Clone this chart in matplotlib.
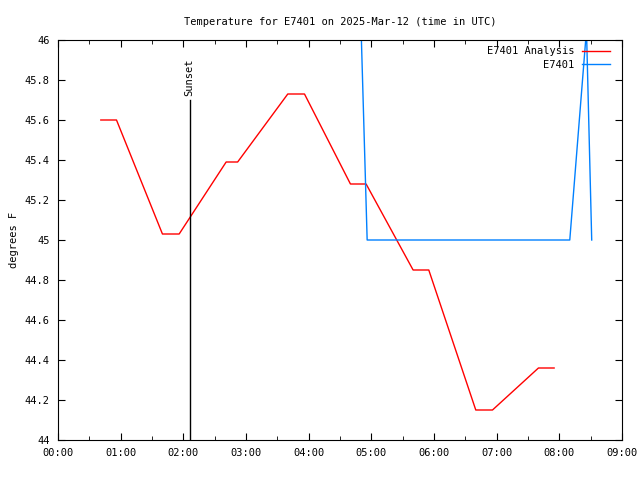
import pandas as pd
import matplotlib
matplotlib.use('Agg')
import matplotlib.pyplot as plt
import matplotlib.dates as mdates

plt.rcParams['font.family'] = 'DejaVu Sans Mono'
plt.rcParams['font.size'] = 7.5

day = '2025-03-12 '

# analysis series (red)
analysis_times = ['00:41', '00:56', '01:40', '01:56', '02:41', '02:52', '03:40', '03:56',
                  '04:40', '04:55', '05:40', '05:55', '06:40', '06:56', '07:40', '07:55']
analysis_temps = [45.60, 45.60, 45.03, 45.03, 45.39, 45.39, 45.73, 45.73,
                  45.28, 45.28, 44.85, 44.85, 44.15, 44.15, 44.36, 44.36]

# observation series (blue)
obs_times = ['04:45', '04:56', '08:10', '08:26', '08:31']
obs_temps = [47.0, 45.0, 45.0, 46.05, 45.0]

sunset_time = '02:06'

at = pd.to_datetime([day + t for t in analysis_times])
ot = pd.to_datetime([day + t for t in obs_times])
st = pd.to_datetime(day + sunset_time)

fig = plt.figure(figsize=(6.4, 4.8), dpi=100)
ax = fig.add_axes([58/640, 40/480, 564/640, 400/480])

ax.plot(at, analysis_temps, color='#ff0000', lw=1, label='E7401 Analysis')
ax.plot(ot, obs_temps, color='#0080ff', lw=1, label='E7401')

ax.plot([st, st], [44, 45.7], color='black', lw=1)
ax.text(st, 45.72, 'Sunset', rotation=90, ha='center', va='bottom')

ax.set_xlim(pd.Timestamp(day + '00:00'), pd.Timestamp(day + '09:00'))
ax.set_ylim(44, 46)
ax.set_yticks([44, 44.2, 44.4, 44.6, 44.8, 45, 45.2, 45.4, 45.6, 45.8, 46])
ax.set_yticklabels(['44', '44.2', '44.4', '44.6', '44.8', '45', '45.2', '45.4', '45.6', '45.8', '46'])
ax.xaxis.set_major_locator(mdates.HourLocator())
ax.xaxis.set_minor_locator(mdates.MinuteLocator(byminute=[30]))
ax.xaxis.set_major_formatter(mdates.DateFormatter('%H:%M'))
ax.tick_params(direction='in', top=True, right=True, which='both', length=5, pad=6)
ax.tick_params(which='minor', length=3)

ax.set_ylabel('degrees F')
ax.set_title('Temperature for E7401 on 2025-Mar-12 (time in UTC)', fontsize=7.5, pad=11)

ax.legend(loc='upper right', bbox_to_anchor=(1 - 4/564, 1 + 2/400), frameon=False,
          markerfirst=False, handlelength=2.7, handletextpad=0.7, borderaxespad=0.6,
          borderpad=0.2, labelspacing=0.35, fontsize=7.5)

fig.savefig('out.png', dpi=100)
